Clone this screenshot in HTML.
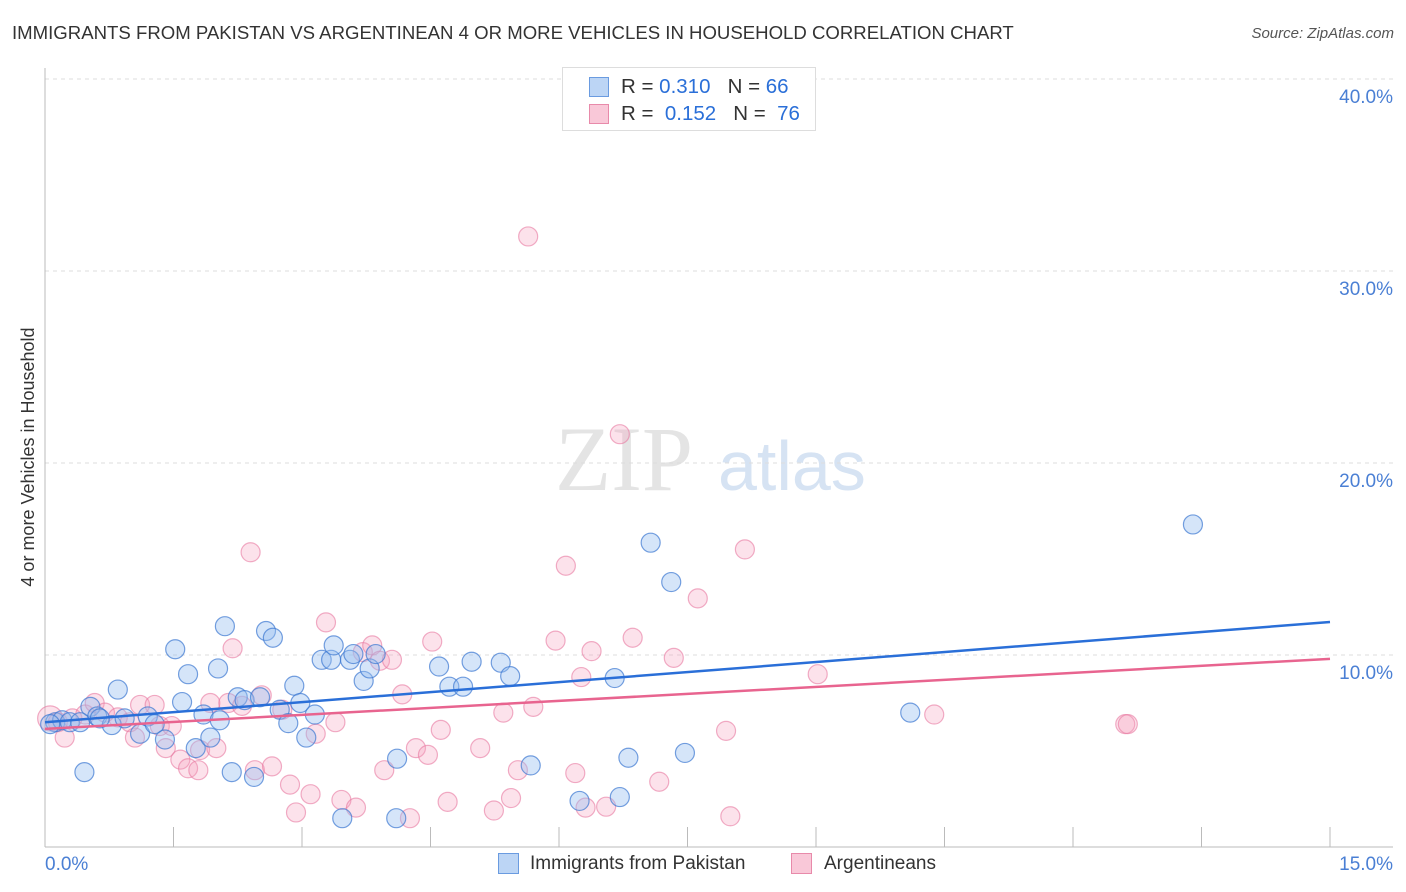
<!DOCTYPE html>
<html><head><meta charset="utf-8"><style>
body{margin:0;background:#fff;font-family:"Liberation Sans",sans-serif;}
#wrap{position:relative;width:1406px;height:892px;overflow:hidden;}
.t{position:absolute;white-space:nowrap;}
</style></head><body>
<div id="wrap">
<div class="t" style="left:12px;top:22px;font-size:18.6px;color:#333;">IMMIGRANTS FROM PAKISTAN VS ARGENTINEAN 4 OR MORE VEHICLES IN HOUSEHOLD CORRELATION CHART</div>
<div class="t" style="right:12px;top:25px;font-size:15px;color:#555;font-style:italic;">Source: ZipAtlas.com</div>
<svg id="svg" width="1406" height="892" style="position:absolute;left:0;top:0"></svg>
</div>
<script>
const yTicks=[10,20,30,40];
const yTickLabels=["10.0%","20.0%","30.0%","40.0%"];
const xTickVals=[0,1.5,3,4.5,6,7.5,9,10.5,12,13.5,15];
const blueX=[0.12,0.20,0.29,0.46,0.53,0.61,0.78,0.85,0.93,1.11,1.20,1.28,1.40,1.52,1.60,1.67,1.76,1.85,1.93,2.02,2.10,2.18,2.25,2.33,2.44,2.51,2.58,2.66,2.74,2.84,2.91,2.98,3.05,3.15,3.23,3.34,3.37,3.56,3.60,3.72,3.79,3.86,3.47,4.10,4.11,4.60,4.72,4.88,4.98,5.32,5.43,5.67,6.24,6.65,6.71,6.81,7.07,7.31,7.47,10.10,13.40,0.41,0.06,0.64,2.04];
const blueY=[6.5,6.6,6.5,3.9,7.3,6.8,6.35,8.2,6.7,5.9,6.8,6.4,5.6,10.3,7.55,9.0,5.15,6.9,5.7,9.3,11.5,3.9,7.8,7.65,3.65,7.8,11.25,10.9,7.15,6.45,8.4,7.5,5.7,6.9,9.75,9.75,10.5,9.75,10.05,8.65,9.3,10.05,1.5,1.5,4.6,9.4,8.35,8.35,9.65,9.6,8.9,4.25,2.4,8.8,2.6,4.65,15.85,13.8,4.9,7.0,16.8,6.5,6.4,6.7,6.6];
const pinkX=[0.06,0.15,0.23,0.32,0.47,0.58,0.70,0.85,0.99,1.05,1.11,1.28,1.34,1.41,1.48,1.58,1.67,1.79,1.81,1.93,2.0,2.14,2.19,2.30,2.40,2.45,2.53,2.65,2.77,2.86,2.93,3.10,3.16,3.28,3.39,3.46,3.63,3.71,3.82,3.91,4.05,4.17,3.96,4.26,4.33,4.47,4.52,4.62,4.70,5.08,5.24,5.35,5.44,5.52,5.64,5.70,5.96,6.08,6.19,6.26,6.31,6.38,6.55,6.71,6.86,7.17,7.34,7.62,7.95,8.0,8.17,9.02,10.38,12.61,12.64];
const pinkY=[6.7,6.5,5.7,6.7,6.9,7.5,7.0,6.75,6.5,5.7,7.4,7.4,6.3,5.15,6.3,4.55,4.1,4.0,5.05,7.5,5.15,7.5,10.35,7.35,15.35,4.0,7.9,4.2,7.15,3.25,1.8,2.75,5.9,11.7,6.5,2.45,2.05,10.15,10.5,9.7,9.75,7.95,4.0,1.5,5.15,4.8,10.7,6.1,2.35,5.15,1.9,7.0,2.55,4.0,31.8,7.3,10.75,14.65,3.85,8.85,2.05,10.2,2.1,21.5,10.9,3.4,9.85,12.95,6.05,1.6,15.5,9.0,6.9,6.4,6.4];
const blueTrend=[6.5,11.72];
const pinkTrend=[6.15,9.8];

const svg=document.getElementById('svg');const NS='http://www.w3.org/2000/svg';
const X=v=>45+v*(1285/15);
const Y=v=>847-v*19.2;
function mk(tag,attrs,name){const e=document.createElementNS(NS,tag);for(const k in attrs)e.setAttribute(k,attrs[k]);


svg.appendChild(e);return e;}
let wm=mk('text',{x:555,y:490,'font-size':92,'font-family':'Liberation Serif, serif',fill:'#e4e4e4'},'watermark-zip');wm.textContent='ZIP';
let wm2=mk('text',{x:718,y:490,'font-size':70,'font-family':'Liberation Sans, sans-serif',fill:'#d6e3f3'},'watermark-atlas');wm2.textContent='atlas';
yTicks.forEach((v,i)=>{mk('line',{x1:45,x2:1393,y1:Y(v),y2:Y(v),stroke:'#ddd','stroke-dasharray':'4,4'},'gridline');
let t=mk('text',{x:1393,y:Y(v)+24,'text-anchor':'end','font-size':19,fill:'#4a7fd4','font-family':'Liberation Sans, sans-serif'},'y-tick-label');t.textContent=yTickLabels[i];});
mk('line',{x1:45,x2:45,y1:68,y2:847,stroke:'#bbb'},'y-axis');
mk('line',{x1:45,x2:1393,y1:847,y2:847,stroke:'#bbb'},'x-axis');
xTickVals.forEach(v=>mk('line',{x1:X(v),x2:X(v),y1:827,y2:847,stroke:'#bbb'},'x-tick'));
let xl=mk('text',{x:45,y:870,'font-size':19,fill:'#4a7fd4','font-family':'Liberation Sans, sans-serif'},'x-min-label');xl.textContent='0.0%';
let xr=mk('text',{x:1393,y:870,'text-anchor':'end','font-size':19,fill:'#4a7fd4','font-family':'Liberation Sans, sans-serif'},'x-max-label');xr.textContent='15.0%';
let yt=mk('text',{x:34,y:457,'font-size':18,fill:'#333','text-anchor':'middle',transform:'rotate(-90 34 457)','font-family':'Liberation Sans, sans-serif'},'y-axis-title');yt.textContent='4 or more Vehicles in Household';
pinkX.forEach((v,i)=>mk('circle',{cx:X(v),cy:Y(pinkY[i]),r:i==0?12.5:9.5,fill:'rgba(244,160,190,0.3)',stroke:'rgba(232,120,160,0.6)','stroke-width':1.2},'pink-point'));
blueX.forEach((v,i)=>mk('circle',{cx:X(v),cy:Y(blueY[i]),r:9.5,fill:'rgba(150,190,240,0.4)',stroke:'rgba(60,120,210,0.7)','stroke-width':1.2},'blue-point'));
mk('line',{x1:X(0),x2:X(15),y1:Y(blueTrend[0]),y2:Y(blueTrend[1]),stroke:'#2a6fd8','stroke-width':2.5},'blue-trend-line');
mk('line',{x1:X(0),x2:X(15),y1:Y(pinkTrend[0]),y2:Y(pinkTrend[1]),stroke:'#e8648f','stroke-width':2.5},'pink-trend-line');
</script>
<div style="position:absolute;left:562px;top:67px;width:252px;height:62px;border:1px solid #ddd;background:#fff;font-size:20.5px;color:#333;">
<div style="position:absolute;left:26px;top:9px;width:18px;height:18px;background:#bcd5f5;border:1px solid #6a9be0;"></div>
<div class="t" style="left:58px;top:7px;">R = <span style="color:#2a6fd8">0.310</span>&nbsp;&nbsp;&nbsp;N = <span style="color:#2a6fd8">66</span></div>
<div style="position:absolute;left:26px;top:36px;width:18px;height:18px;background:#f9c8d8;border:1px solid #e88aaa;"></div>
<div class="t" style="left:58px;top:34px;">R = &nbsp;<span style="color:#2a6fd8">0.152</span>&nbsp;&nbsp;&nbsp;N = &nbsp;<span style="color:#2a6fd8">76</span></div>
</div>
<div style="position:absolute;left:498px;top:853px;font-size:19px;color:#333;">
<div style="position:absolute;left:0;top:0;width:19px;height:19px;background:#bcd5f5;border:1px solid #6a9be0;"></div>
<div class="t" style="left:32px;top:0;">Immigrants from Pakistan</div>
<div style="position:absolute;left:293px;top:0;width:19px;height:19px;background:#f9c8d8;border:1px solid #e88aaa;"></div>
<div class="t" style="left:326px;top:0;">Argentineans</div>
</div>
</body></html>
